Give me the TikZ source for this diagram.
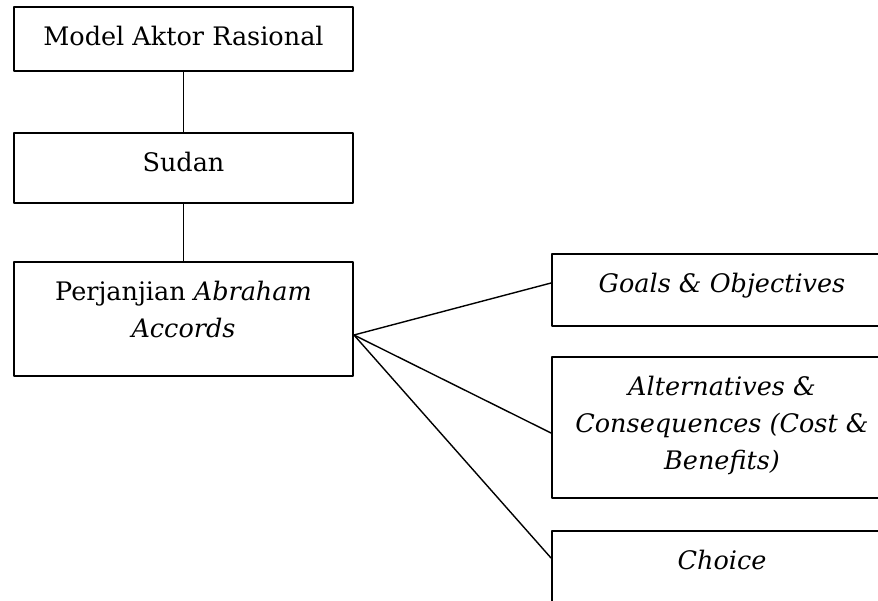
\documentclass[tikz,border=0pt]{standalone}
\usepackage{fontspec}
\setmainfont{DejaVu Serif}
\newcommand{\isikotak}[2]{\parbox[c][#1][t]{320pt}{\centering\rule{0pt}{38pt}#2}}
\tikzset{
	kotak/.style={draw, line width=1.9pt, inner sep=0pt, minimum width=339pt},
	garis/.style={line width=1.4pt}
}
\begin{document}
\begin{tikzpicture}[x=1pt, y=-1pt, line join=round, line cap=round, font=\fontsize{25.5}{37}\selectfont]
	\useasboundingbox (0,0) rectangle (878,600);
	\clip (0,0) rectangle (878,600);

	% Kotak di sebelah kiri
	\node[kotak] (model) at (183.5,39) {\isikotak{64pt}{Model Aktor Rasional}};
	\node[kotak] (sudan) at (183.5,168) {\isikotak{70pt}{Sudan}};
	\node[kotak] (perjanjian) at (183.5,319) {\isikotak{114pt}{Perjanjian {\itshape Abraham}\\ {\itshape Accords}}};

	% Kotak di sebelah kanan
	\node[kotak, minimum width=340pt] (goals) at (722,290) {\isikotak{72pt}{\itshape Goals \& Objectives}};
	\node[kotak, minimum width=340pt] (alt) at (722,427.5) {\isikotak{141pt}{\itshape Alternatives \&\\ Consequences (Cost \&\\ Benefits)}};
	\node[kotak, minimum width=340pt] (choice) at (722,567) {\isikotak{72pt}{\itshape Choice}};

	% Garis penghubung
	\draw[garis] (model) -- (sudan);
	\draw[garis] (sudan) -- (perjanjian);
	\coordinate (pusat) at ([yshift=-16pt]perjanjian.east);
	\foreach \tujuan/\geser in {goals/7pt, alt/-5.5pt, choice/9pt} {
		\draw[garis] (pusat) -- ([yshift=\geser]\tujuan.west);
	}

\end{tikzpicture}
\end{document}
